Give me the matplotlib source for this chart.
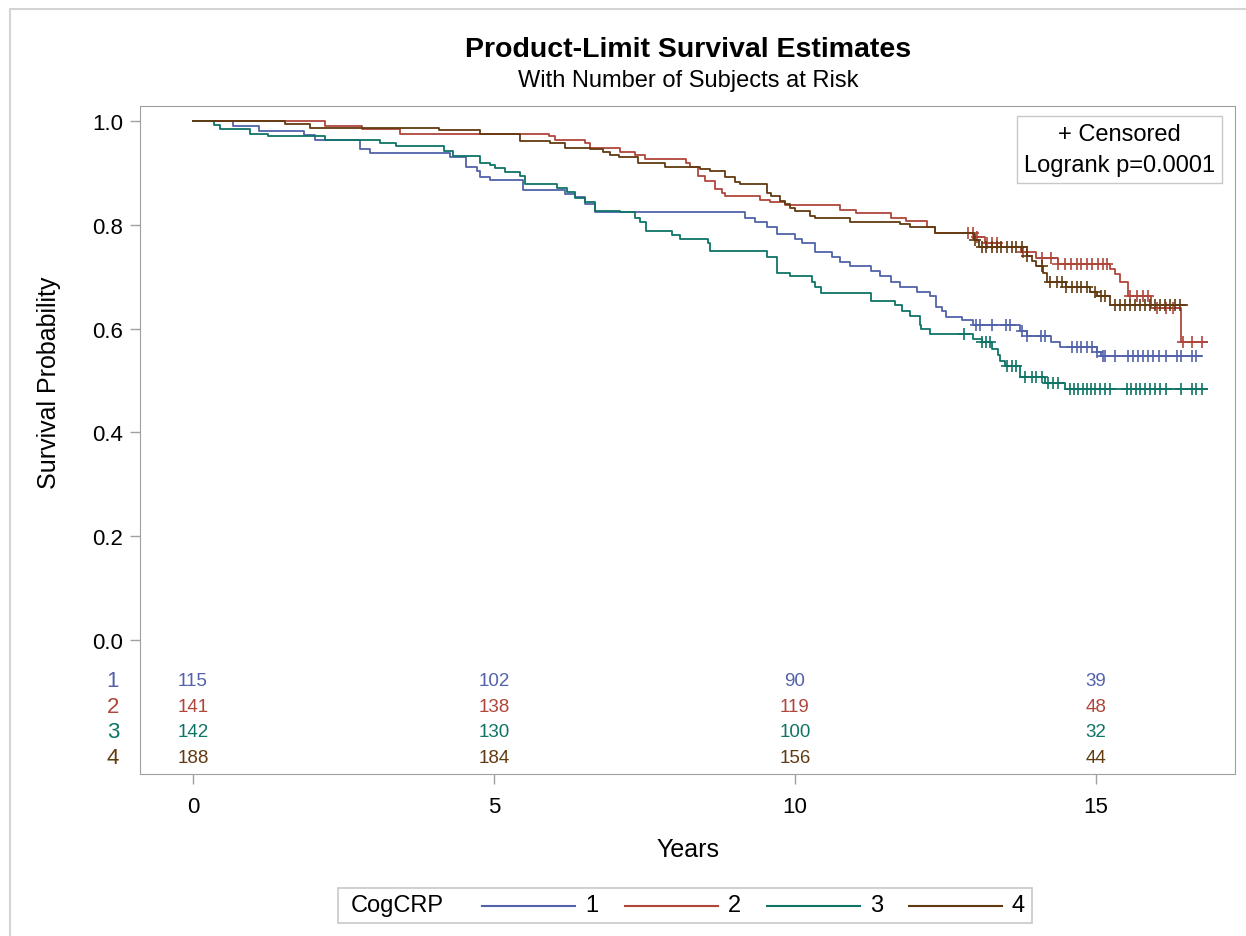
import numpy as np
import matplotlib
matplotlib.use('Agg')
from matplotlib import pyplot as plt
from matplotlib.lines import Line2D
from matplotlib.patches import Rectangle
from matplotlib.offsetbox import AnchoredOffsetbox, HPacker, TextArea, DrawingArea
import matplotlib.transforms as mtransforms

plt.rcParams['font.family'] = ['Liberation Sans', 'DejaVu Sans']

groups = ['1', '2', '3', '4']
colors = ['#5262AA', '#B0453A', '#0E7466', '#613A10']

# step curves (years, survival)
t1 = [0, 0.67, 1.10, 1.85, 2.02, 2.77, 2.94, 4.27, 4.53, 4.71, 4.77, 4.93, 5.49, 6.18, 6.35, 6.51,
      6.68, 9.17, 9.34, 9.53, 9.70, 10.0, 10.11, 10.33, 10.61, 10.75, 10.91, 11.27, 11.42, 11.59,
      11.74, 12.02, 12.24, 12.34, 12.44, 12.51, 12.77, 12.95, 13.74, 13.85, 14.26, 14.40, 15.01,
      15.09, 16.76]
s1 = [1.0, 0.991, 0.980, 0.974, 0.964, 0.946, 0.938, 0.930, 0.912, 0.904, 0.893, 0.886, 0.868,
      0.859, 0.853, 0.840, 0.825, 0.814, 0.806, 0.795, 0.782, 0.773, 0.765, 0.747, 0.739, 0.728,
      0.721, 0.712, 0.702, 0.689, 0.680, 0.671, 0.662, 0.641, 0.635, 0.623, 0.617, 0.607, 0.596,
      0.585, 0.574, 0.564, 0.556, 0.548, 0.548]
c1 = [13.01, 13.07, 13.27, 13.50, 13.57, 13.77, 13.85, 14.08, 14.15, 14.60, 14.68, 14.76, 14.85,
      14.93, 15.01, 15.11, 15.15, 15.32, 15.54, 15.62, 15.70, 15.79, 15.87, 15.95, 16.04, 16.17,
      16.34, 16.42, 16.59, 16.66]

t2 = [0, 2.19, 2.80, 3.44, 5.91, 6.01, 6.51, 6.59, 7.09, 7.34, 7.51, 8.19, 8.26, 8.39, 8.50, 8.67,
      8.78, 8.84, 9.42, 9.58, 9.83, 10.75, 11.01, 11.59, 11.85, 12.20, 12.33, 12.97, 13.16, 13.43,
      13.76, 14.01, 14.37, 15.23, 15.32, 15.40, 15.53, 15.91, 16.42, 16.84]
s2 = [1.0, 0.990, 0.984, 0.976, 0.972, 0.964, 0.957, 0.949, 0.941, 0.934, 0.927, 0.919, 0.911,
      0.895, 0.885, 0.870, 0.862, 0.855, 0.847, 0.844, 0.838, 0.829, 0.822, 0.814, 0.808, 0.796,
      0.784, 0.776, 0.765, 0.757, 0.747, 0.737, 0.724, 0.715, 0.705, 0.689, 0.663, 0.640, 0.574,
      0.574]
c2 = [12.88, 12.95, 13.02, 13.19, 13.27, 13.35, 13.78, 14.10, 14.26, 14.37, 14.48, 14.59, 14.68,
      14.76, 14.85, 14.93, 15.04, 15.12, 15.19, 15.57, 15.69, 15.79, 15.87, 16.01, 16.17, 16.28,
      16.45, 16.59, 16.76]

t3 = [0, 0.35, 0.45, 0.95, 1.25, 2.20, 3.11, 3.37, 4.17, 4.32, 4.77, 4.93, 5.02, 5.18, 5.43, 5.51,
      6.04, 6.21, 6.35, 6.51, 6.68, 7.09, 7.34, 7.43, 7.53, 7.95, 8.09, 8.56, 8.59, 9.53, 9.70,
      9.92, 10.28, 10.33, 10.43, 11.27, 11.66, 11.77, 11.91, 12.08, 12.10, 12.24, 12.95, 13.10,
      13.27, 13.38, 13.40, 13.49, 13.74, 14.15, 14.49, 16.84]
s3 = [1.0, 0.992, 0.984, 0.976, 0.972, 0.964, 0.957, 0.951, 0.943, 0.933, 0.920, 0.916, 0.909,
      0.901, 0.895, 0.879, 0.871, 0.864, 0.852, 0.845, 0.827, 0.824, 0.814, 0.805, 0.789, 0.780,
      0.773, 0.765, 0.750, 0.739, 0.708, 0.702, 0.689, 0.680, 0.669, 0.654, 0.645, 0.635, 0.625,
      0.608, 0.599, 0.590, 0.580, 0.574, 0.561, 0.550, 0.538, 0.529, 0.506, 0.495, 0.484, 0.484]
c3 = [12.80, 13.10, 13.18, 13.24, 13.52, 13.60, 13.68, 13.82, 13.93, 14.01, 14.10, 14.21, 14.29,
      14.37, 14.57, 14.63, 14.71, 14.78, 14.85, 14.91, 14.98, 15.07, 15.15, 15.23, 15.51, 15.59,
      15.66, 15.74, 15.81, 15.90, 15.98, 16.06, 16.16, 16.42, 16.59, 16.67, 16.76]

t4 = [0, 1.53, 1.94, 4.09, 4.77, 5.43, 5.93, 6.18, 6.59, 6.81, 6.92, 7.08, 7.40, 7.84, 8.42, 8.59,
      8.84, 9.00, 9.09, 9.53, 9.61, 9.75, 9.83, 9.92, 10.0, 10.25, 10.33, 10.91, 11.74, 11.91,
      12.33, 12.97, 13.05, 13.85, 13.94, 14.01, 14.12, 14.18, 14.51, 14.90, 15.01, 15.23, 16.51]
s4 = [1.0, 0.995, 0.986, 0.983, 0.976, 0.961, 0.957, 0.949, 0.946, 0.940, 0.934, 0.930, 0.920,
      0.912, 0.907, 0.904, 0.893, 0.883, 0.879, 0.861, 0.855, 0.846, 0.840, 0.833, 0.826, 0.818,
      0.814, 0.806, 0.802, 0.795, 0.784, 0.770, 0.758, 0.740, 0.731, 0.721, 0.708, 0.690, 0.680,
      0.670, 0.663, 0.645, 0.645]
c4 = [12.99, 13.10, 13.18, 13.27, 13.35, 13.43, 13.52, 13.60, 13.68, 13.77, 13.85, 14.10, 14.24,
      14.35, 14.43, 14.51, 14.60, 14.68, 14.76, 14.85, 14.98, 15.09, 15.15, 15.32, 15.40, 15.48,
      15.56, 15.65, 15.73, 15.81, 15.90, 15.98, 16.06, 16.15, 16.23, 16.31, 16.40]

risk_times = [0, 5, 10, 15]
at_risk = [[115, 102, 90, 39],
           [141, 138, 119, 48],
           [142, 130, 100, 32],
           [188, 184, 156, 44]]
risk_rows = [-0.077, -0.127, -0.177, -0.227]

curves = [(t1, s1, c1), (t2, s2, c2), (t3, s3, c3), (t4, s4, c4)]

W, H = 1246, 937
fig = plt.figure(figsize=(W / 100, H / 100), dpi=100)
fig.patches.append(Rectangle((10 / W, -0.1), 1.2, 1 - 10 / H + 0.1, transform=fig.transFigure,
                             fill=False, ec='#D4D4D4', lw=1.5))
ax = fig.add_axes([140 / W, 1 - 775 / H, (1235 - 140) / W, (775 - 107) / H])

for (t, s, c), col in zip(curves, colors):
    t = np.array(t)
    s = np.array(s)
    ax.step(t, s, where='post', color=col, lw=1.3)
    c = np.array(c)
    cy = s[np.searchsorted(t, c, side='right') - 1]
    ax.plot(c, cy, ls='none', marker='+', ms=9, mew=1.2, color=col)

ax.set_xlim(-0.88, 17.31)
ax.set_ylim(-0.258, 1.029)
ax.set_xticks(risk_times)
ax.set_yticks(np.arange(0, 1.01, 0.2))
ax.set_yticklabels(['%.1f' % v for v in np.arange(0, 1.01, 0.2)])
ax.tick_params(labelsize=16, length=7, color='#A0A0A0', width=1, pad=5)
ax.tick_params(axis='x', pad=9)
for sp in ax.spines.values():
    sp.set_color('#A0A0A0')
ax.set_xlabel('Years', fontsize=18)
ax.xaxis.set_label_coords(0.5, -0.0945)
ax.set_ylabel('Survival Probability', fontsize=18)
ax.yaxis.set_label_coords(-0.072, 0.587)

trans = mtransforms.blended_transform_factory(ax.transAxes, ax.transData)
for i, g in enumerate(groups):
    ax.text(-0.0247, risk_rows[i], g, color=colors[i], fontsize=16, ha='center', va='center',
            transform=trans)
    for j, x in enumerate(risk_times):
        ax.text(x, risk_rows[i], str(at_risk[i][j]), color=colors[i], fontsize=13.5,
                ha='center', va='center')

ax.text(0.9817, 0.9745, '+ Censored\nLogrank p=0.0001', transform=ax.transAxes, ha='right', va='top',
        fontsize=17, multialignment='center', linespacing=1.5,
        bbox=dict(boxstyle='square,pad=0.3', fc='white', ec='#C8C8C8'))

fig.text(0.552, 1 - 50 / H, 'Product-Limit Survival Estimates', fontsize=20.5, fontweight='bold',
         ha='center', va='center')
fig.text(0.552, 1 - 81 / H, 'With Number of Subjects at Risk', fontsize=17,
         ha='center', va='center')

# legend: title to the left, then line + label for each group
title_box = HPacker(children=[DrawingArea(4, 10), TextArea('CogCRP', textprops=dict(fontsize=17)),
                              DrawingArea(9, 10)], sep=0, align='center', pad=0)
leg_items = [title_box]
for g, col in zip(groups, colors):
    da = DrawingArea(67, 10)
    da.add_artist(Line2D([0, 67], [5, 5], color=col, lw=1.5))
    leg_items.append(HPacker(children=[da, TextArea(g, textprops=dict(fontsize=17))],
                             sep=7, align='center', pad=0))
box = HPacker(children=leg_items, sep=19, align='center', pad=0)
leg = AnchoredOffsetbox(loc='center', child=box, pad=0.5, borderpad=0, frameon=True,
                        bbox_to_anchor=(685 / W, 1 - 906.5 / H), bbox_transform=fig.transFigure)
leg.patch.set_edgecolor('#C8C8C8')
leg.patch.set_linewidth(1.2)
fig.add_artist(leg)

fig.savefig('out.png', dpi=100)
